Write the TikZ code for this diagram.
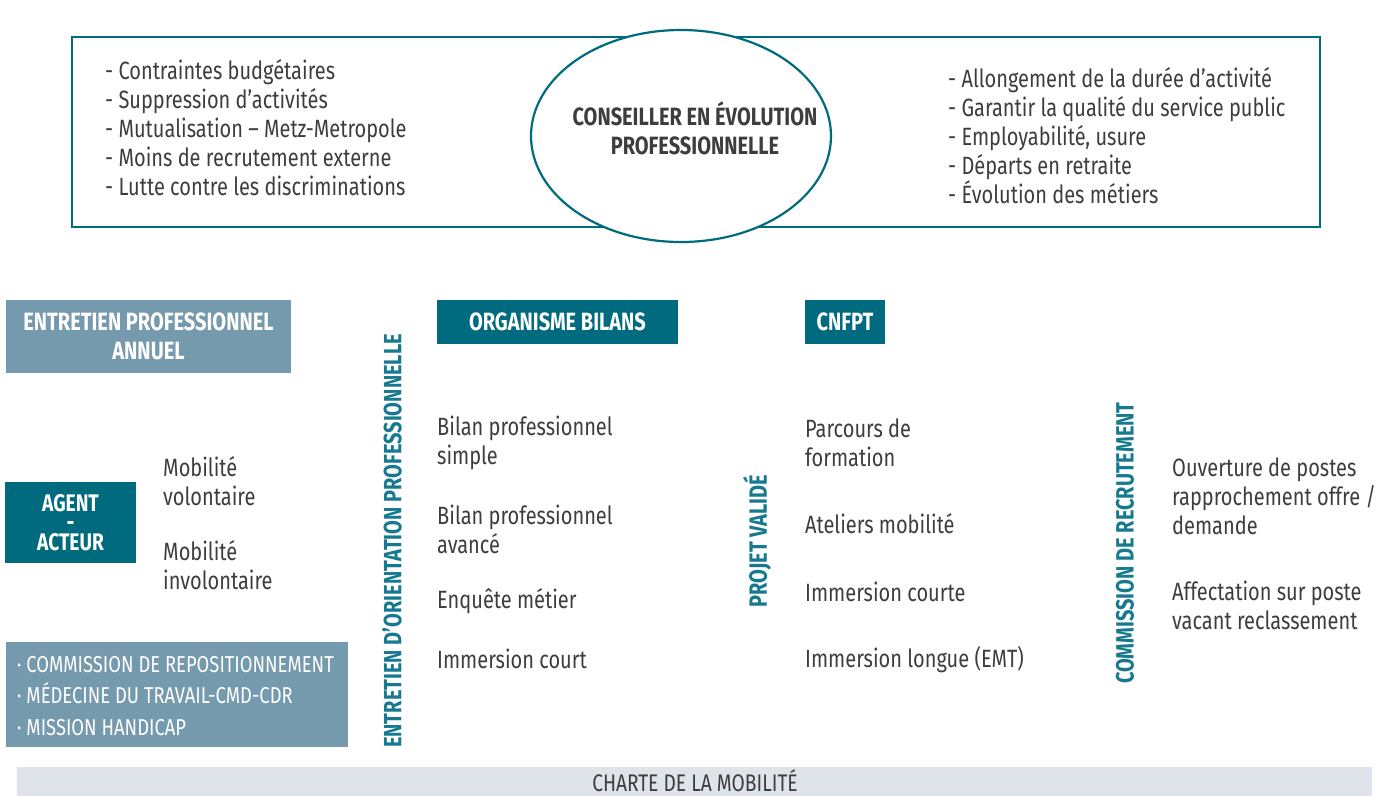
\documentclass[tikz,border=0pt]{standalone}
\usepackage{fontspec}
\setmainfont{Fira Sans}[FakeStretch=0.8]
\usetikzlibrary{shapes.geometric,positioning}

\definecolor{tealdark}{HTML}{006A7E}
\definecolor{tealtxt}{HTML}{16798F}
\definecolor{steel}{HTML}{769AAD}
\definecolor{barbg}{HTML}{DFE3EA}
\definecolor{txtgray}{HTML}{3D3D3D}

\tikzset{
  txt/.style={inner sep=0pt, text=txtgray, align=left, anchor=west,
    font=\fontsize{25}{29}\selectfont},
  headbox/.style={fill=tealdark, text=white, inner sep=0pt,
    font=\bfseries\fontsize{25}{29}\selectfont, align=center},
  lightbox/.style={fill=steel, text=white, inner sep=0pt,
    font=\bfseries\fontsize{25}{29}\selectfont, align=center},
  vlabel/.style={rotate=90, inner sep=0pt, text=tealtxt,
    font=\bfseries\fontsize{25}{29}\selectfont},
}

\begin{document}
\begin{tikzpicture}[x=1pt,y=1pt]
\useasboundingbox (0,0) rectangle (1387,-796);

% top frame and ellipse
\draw[tealdark, line width=2pt] (72,-37) rectangle (1320,-227);
\node[draw=tealdark, line width=2.2pt, fill=white, ellipse,
  minimum width=300, minimum height=212] (cep) at (681,-136) {};
\node[inner sep=0pt, text=txtgray, align=center,
  font=\bfseries\fontsize{25}{29}\selectfont] (ceptxt) at (695,-128)
  {CONSEILLER EN ÉVOLUTION\\PROFESSIONNELLE};

\node[txt] (enjeux) at (105,-128) {- Contraintes budgétaires\\- Suppression d’activités\\- Mutualisation – Metz-Metropole\\- Moins de recrutement externe\\- Lutte contre les discriminations};
\node[txt] (enjeuxr) at (948,-136) {- Allongement de la durée d’activité\\- Garantir la qualité du service public\\- Employabilité, usure\\- Départs en retraite\\- Évolution des métiers};

% boxes on the left
\node[lightbox, minimum width=285, minimum height=73] (epa) at (148.5,-336.5) {ENTRETIEN PROFESSIONNEL\\ANNUEL};
\node[headbox, minimum width=131, minimum height=81, font=\bfseries\fontsize{24}{19.5}\selectfont] (agent) at (70.5,-522.5) {AGENT\\-\\ACTEUR};
\node[fill=steel, text=white, inner sep=0pt, minimum width=342, minimum height=105] (commbox) at (177,-694.5) {};
\node[inner sep=0pt, text=white, align=left, anchor=west,
  font=\fontsize{23}{31.5}\selectfont] (comm) at (17,-696)
  {· COMMISSION DE REPOSITIONNEMENT\\· MÉDECINE DU TRAVAIL-CMD-CDR\\· MISSION HANDICAP};

\node[txt] (mobv) at (163,-481) {Mobilité\\volontaire};
\node[txt] (mobi) at (163,-565) {Mobilité\\involontaire};

% vertical labels
\node[vlabel] (eop) at (392,-541) {ENTRETIEN D’ORIENTATION PROFESSIONNELLE};
\node[vlabel] (pv) at (757,-541) {PROJET VALIDÉ};
\node[vlabel] (cdr) at (1125,-543) {COMMISSION DE RECRUTEMENT};

% column headers
\node[headbox, minimum width=241, minimum height=44] (orga) at (557.5,-322) {ORGANISME BILANS};
\node[headbox, minimum width=80, minimum height=44] (cnfpt) at (845,-322) {CNFPT};

% columns
\node[txt] (b1) at (437,-442.5) {Bilan professionnel\\simple};
\node[txt] (b2) at (437,-529.5) {Bilan professionnel\\avancé};
\node[txt] (b3) at (437,-601) {Enquête métier};
\node[txt] (b4) at (437,-659) {Immersion court};

\node[txt] (c1) at (805,-442.5) {Parcours de\\formation};
\node[txt] (c2) at (805,-524) {Ateliers mobilité};
\node[txt] (c3) at (805,-592) {Immersion courte};
\node[txt] (c4) at (805,-660) {Immersion longue (EMT)};

\node[txt] (r1) at (1172,-496) {Ouverture de postes\\rapprochement offre /\\demande};
\node[txt] (r2) at (1172,-605.5) {Affectation sur poste\\vacant reclassement};

% bottom bar
\node[fill=barbg, inner sep=0pt, minimum width=1355, minimum height=29] (charte) at (694.5,-781.5) {};
\node[inner sep=0pt, text=txtgray, font=\fontsize{24}{28}\selectfont] (chartetxt) at (695,-781) {CHARTE DE LA MOBILITÉ};
\end{tikzpicture}
\end{document}
